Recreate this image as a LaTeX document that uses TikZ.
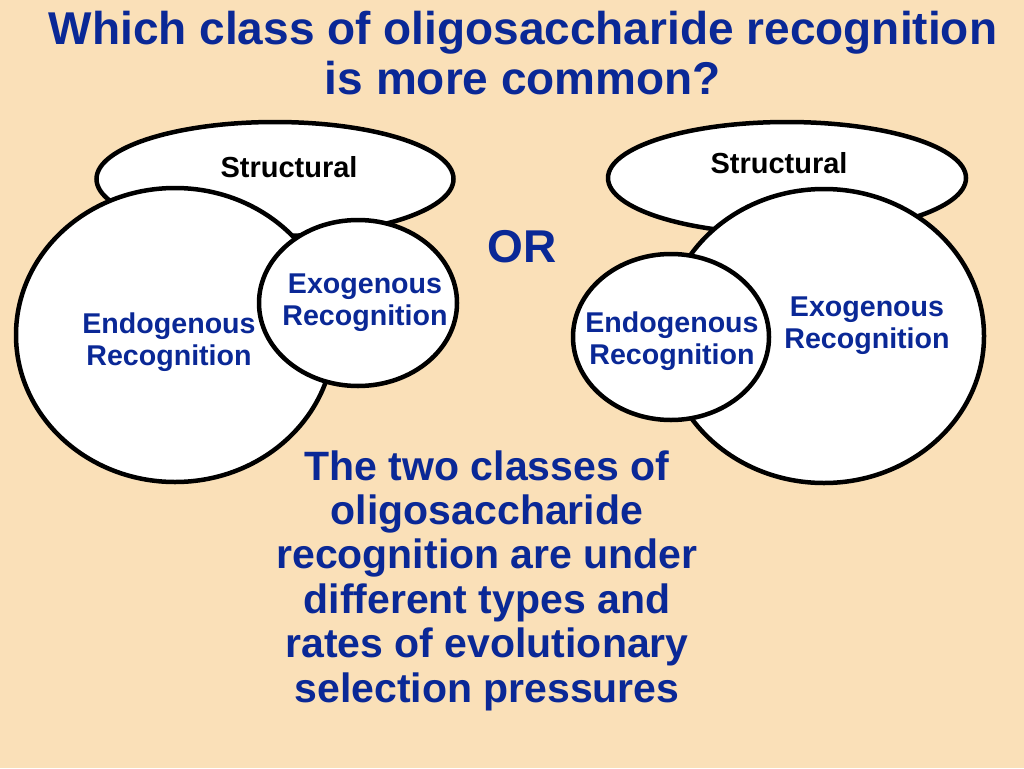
\documentclass[tikz,border=0pt]{standalone}
\usepackage{fontspec}
\setmainfont{Liberation Sans}
\usetikzlibrary{shapes.geometric}
\definecolor{bgpeach}{RGB}{250,224,184}
\definecolor{txtblue}{RGB}{10,40,150}
\tikzset{
  blob/.style={ellipse, draw=black, fill=white, line width=4.5pt, inner sep=0pt, outer sep=0pt},
  lbl/.style={anchor=base, inner sep=0pt, font=\fontsize{28.6}{32}\selectfont\bfseries, text=txtblue},
  structlbl/.style={anchor=base, inner sep=0pt, font=\fontsize{29}{33}\selectfont\bfseries, text=black},
  titlelbl/.style={anchor=base, inner sep=0pt, font=\fontsize{46}{50}\selectfont\bfseries, text=txtblue},
  bodylbl/.style={anchor=base, inner sep=0pt, font=\fontsize{41}{44.4}\selectfont\bfseries, text=txtblue},
  orlbl/.style={anchor=base, inner sep=0pt, font=\fontsize{46}{50}\selectfont\bfseries, text=txtblue}
}
\newcommand{\mlines}[1]{\begin{tabular}[t]{@{}c@{}}#1\end{tabular}}
\begin{document}
\begin{tikzpicture}[x=1pt, y=-1pt]
\path[fill=bgpeach] (0,0) rectangle (1024,768);
\useasboundingbox (0,0) rectangle (1024,768);

% title
\node[titlelbl] (title) at (523,45) {\mlines{Which class of oligosaccharide recognition\\is more common?}};

% left diagram
\node[blob, minimum width=357pt, minimum height=114pt] (lstruct) at (275,179) {};
\node[blob, minimum width=318pt, minimum height=294pt] (lendo) at (175,335) {};
\node[blob, minimum width=198pt, minimum height=166pt] (lexo) at (358,303) {};
\node[structlbl] (lstructt) at (289,177) {Structural};
\node[lbl] (lendot) at (169,333) {\mlines{Endogenous\\Recognition}};
\node[lbl] (lexot) at (365,293) {\mlines{Exogenous\\Recognition}};

% OR
\node[orlbl] (or) at (522,262) {OR};

% right diagram
\node[blob, minimum width=358pt, minimum height=112pt] (rstruct) at (787,178) {};
\node[blob, minimum width=320pt, minimum height=294pt] (rexo) at (824,336) {};
\node[blob, minimum width=196pt, minimum height=166pt] (rendo) at (671,337) {};
\node[structlbl] (rstructt) at (779,173) {Structural};
\node[lbl] (rendot) at (672,332) {\mlines{Endogenous\\Recognition}};
\node[lbl] (rexot) at (867,316) {\mlines{Exogenous\\Recognition}};

% body text
\node[bodylbl] (body) at (487,480) {\mlines{The two classes of\\oligosaccharide\\recognition are under\\different types and\\rates of evolutionary\\selection pressures}};
\end{tikzpicture}
\end{document}
